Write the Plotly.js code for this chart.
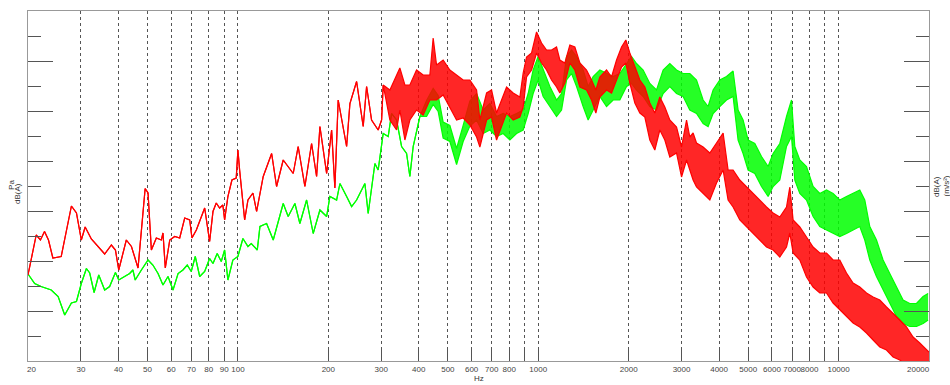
<!DOCTYPE html>
<html><head><meta charset="utf-8">
<script src="https://cdn.plot.ly/plotly-3.0.1.min.js"></script>
<style>html,body{margin:0;padding:0;background:#fff;} #chart{width:950px;height:385px;}</style>
</head><body><div id="chart"></div>
<script>
// ---- Red series: line part (Hz, dB), read peak by peak ----
const redLineFreq = [20,21.3,22.0,22.7,23.4,24.2,25.8,27.9,29.0,30.1,31.0,32.5,36.0,37.9,39.1,40.1,42.5,44.2,46.5,49.1,50.2,51.5,53.5,55.6,56.3,57.3,59.3,61.6,64.0,66.5,69.1,70.3,72.7,75.5,77.5,80.5,82.6,84.7,86.9,89.1,90.3,92.6,95.5,98.7,100,101.3,105.3,108,112.2,115.4,121.4,129.5,134.5,141.5,152.8,158.7,167.1,175.9,182.8,187.5,197.4,205.1,210.3,215.7,230.1,236.0,248.4,261.3,268.2,278.6,293.1,300.9,304.6];
const redLineDb = [17.2,25.2,24.2,25.9,24.2,20.6,20.9,31.0,29.6,24.2,26.8,24.4,21.4,23.2,22.2,18.2,24.2,22.9,18.6,34.5,33.6,22.2,24.6,24.2,25.6,18.6,24.2,24.9,24.6,28.6,28.2,24.6,26.2,28.9,30.6,23.9,29.9,31.6,30.6,31.2,28.2,32.9,36.2,36.6,42.2,38.2,28.2,32.2,33.6,29.9,36.9,41.5,34.9,40.2,37.5,42.9,34.9,43.5,36.9,46.9,37.5,46.2,34.6,52.2,42.9,51.5,55.9,46.9,54.9,48.2,46.2,48.2,55.2];
// ---- Red series: dense noisy part, envelope (upper / lower) ----
const redBandFreq = [320.6,337.5,346.1,359.7,373.7,393.4,413.8,435.6,446.8,458.5,482.3,507.8,534.6,562.3,592.0,623.2,639.2,672.9,699.1,726.4,754.8,784.3,825.0,868.5,890.7,914.2,950.0,987.1,1025.6,1065.7,1107.4,1150.6,1180.0,1226.1,1274.1,1323.9,1375.7,1448.0,1504.6,1555.0,1603.4,1688.0,1753.9,1822.4,1893.7,1957.2,2018.1,2097.0,2179.0,2264.0,2352.4,2444.1,2539.6,2638.8,2741.7,2886.6,2999.3,3117.1,3196.3,3278.0,3364.6,3539.3,3725.7,3922.1,4125.5,4286.6,4453.8,4688.3,4935.5,5191.9,5465.6,5754.2,6052.8,6372.2,6708.0,6879.6,7055.9,7428.0,7818.9,8224.7,8658.4,9114.5,9587.4,10092,10624,11176,11764,12385,13029,13715,14436,15185,15985,16828,17701,18635,19617,20000];
const redBandHi = [54.2,57.2,58.6,55.2,55.2,58.2,57.2,57.2,64.6,59.2,60.2,58.2,57.2,56.2,56.2,54.2,48.2,53.6,54.2,49.6,52.2,54.8,53.6,52.8,57.6,60.8,61.6,65.8,63.6,62.2,62.2,62.8,60.2,59.6,63.2,62.8,59.6,58.2,56.2,54.2,56.8,58.2,56.8,60.2,62.8,64.2,61.6,58.8,56.2,54.8,51.6,49.6,52.8,50.8,48.2,46.8,42.8,48.2,44.8,45.6,43.6,42.8,41.6,43.6,45.6,38.2,38.2,36.2,34.8,33.6,32.2,30.8,29.6,28.8,30.8,34.8,28.2,26.8,24.8,22.8,21.6,21.6,20.2,20.2,17.6,15.6,14.8,13.6,12.8,12.2,10.8,9.6,8.2,6.8,4.8,3.6,2.2,1.8];
const redBandLo = [48.2,46.2,50.2,44.2,48.2,50.2,49.2,52.2,52.2,52.2,53.2,50.6,48.2,48.6,47.2,44.8,42.8,48.2,48.8,44.2,46.8,49.6,48.2,48.8,50.8,56.8,58.2,61.6,59.6,58.2,56.2,54.8,53.6,55.6,59.6,58.2,54.8,54.2,52.2,49.6,52.8,54.2,53.6,56.2,58.8,59.6,55.6,51.6,49.6,48.8,44.2,42.2,46.2,44.2,40.8,41.6,36.8,40.2,38.2,36.2,34.8,33.6,32.2,35.6,38.2,32.2,30.8,28.2,26.8,25.6,24.2,22.8,22.2,20.8,22.8,25.6,21.6,20.2,16.8,14.8,13.6,13.6,11.6,10.2,8.8,7.6,6.8,5.6,4.2,2.8,2.2,0.8,0.2,-1,-1,-1,-1,-1];

// ---- Green series: line part ----
const greenLineFreq = [20,21.05,22.1,23.9,25.2,26.5,27.9,29.0,30.1,31.3,32.1,33.2,34.4,36.0,37.4,39.1,40.1,42.0,43.6,44.7,45.5,47.7,50.2,52.1,54.2,56.3,58.5,60.8,63.2,65.6,67.8,69.9,72.1,74.6,77.5,80.5,82.6,85.3,88.0,90.3,92.6,96.2,100,103.9,108,110.8,116,118.4,124.6,131.1,141.5,147.0,154.8,160.8,169.3,178.1,187.5,197.4,202.4,213.1,218.6,230.1,239.1,248.4,264.7,271.5,278.6,285.8,293.1,300.9,304.6,316.5,324.8,337.5,350.7,364.4,373.7,383.3,393.4,403.5];
const greenLineDb = [17.4,15.5,14.9,14.2,12.9,9.2,11.6,11.9,15.5,18.5,17.6,13.7,17.2,14.2,14.9,17.7,16.2,16.9,17.5,18.2,16.2,18.2,20.2,19.2,17.5,15.2,16.9,14.2,17.5,18.2,19.2,17.9,20.9,16.9,17.9,20.5,19.5,21.5,19.9,22.2,16.2,20.2,20.9,24.5,22.9,23.5,22.2,26.9,27.5,24.2,31.5,28.9,31.5,27.5,32.2,25.5,30.2,28.9,32.9,32.2,35.5,32.9,30.9,32.2,35.5,29.5,34.9,39.5,38.2,42.9,45.5,44.9,49.5,48.2,42.9,41.5,36.9,42.9,46.2,48.9];
// ---- Green series: dense noisy part, envelope ----
const greenBandFreq = [424.7,446.8,464.2,482.3,507.8,534.6,562.3,592.0,623.2,655.5,690.1,726.4,764.1,804.3,846.8,890.7,925.5,961.7,999,1038.3,1093.0,1150.6,1195.6,1242.3,1290.9,1341.3,1410.7,1465.9,1523.2,1603.4,1688.0,1775.6,1869.2,1967.7,2044.5,2124.5,2234.7,2352.4,2476.3,2604.6,2741.7,2886.6,3036.4,3196.3,3364.6,3539.3,3677.4,3821.3,4022.7,4234.3,4453.8,4627.7,4808.6,4996.4,5260.2,5537.7,5825.2,6052.8,6372.2,6708.0,6970,7148,7428,7818.9,8224.7,8658.4,9114.5,9587.4,10092,10624,11176,11764,12223,12702,13371,14064,14805,15586,16394,17260,18168,19112,19860];
const greenBandHi = [52.1,54.5,53.1,47.8,47.1,42.5,47.1,52.0,53.5,50.2,51.5,48.9,49.5,48.9,49.5,50.2,53.5,58.2,60.9,58.2,54.9,52.2,53.5,60.9,62.2,60.9,58.2,54.9,56.9,58.2,57.5,56.9,57.5,59.5,60.9,59.5,58.2,55.5,54.2,58.2,59.5,58.2,57.5,57.5,56.2,52.2,50.9,54.2,56.2,56.9,58.0,50.2,48.2,44.2,43.5,40.9,38.9,41.5,43.5,48.9,52.2,42.9,40.2,38.9,34.9,33.5,34.2,33.5,32.2,32.9,33.5,34.2,32.2,26.9,24.2,20.2,17.5,14.9,12.2,11.5,11.5,12.9,13.5];
const greenBandLo = [48.9,51.3,49.9,44.6,43.9,39.3,43.9,47.0,48.2,45.5,46.2,44.9,45.5,44.2,45.5,46.2,49.5,53.5,56.2,52.9,50.9,48.9,50.2,56.2,57.5,54.9,50.9,48.2,50.2,52.9,50.9,52.2,52.2,54.9,55.5,54.2,52.9,50.9,50.2,53.5,54.9,53.5,52.9,50.2,49.5,47.5,46.9,49.5,50.9,52.2,52.9,44.2,41.5,38.2,37.5,34.9,32.9,34.9,36.2,42.9,44.9,36.2,33.5,32.2,28.9,26.9,26.2,25.5,24.9,25.5,26.2,26.9,24.2,20.2,16.9,14.2,11.5,8.9,7.5,6.9,6.9,7.5,8.2];

// ---- Axis ticks ----
const tickFreqs = [20,30,40,50,60,70,80,90,100,200,300,400,500,600,700,800,900,1000,2000,3000,4000,5000,6000,7000,8000,9000,10000,20000];
const tickLabels = ["","30","40","50","60","70","80","90","100","200","300","400","500","600","700","800","","1000","2000","3000","4000","5000","6000","7000","8000","","10000",""];
const edgeLabels = ["20","20000"];
const decadeFreqs = [100,1000,10000];

const RED = '#ff0000', GREEN = '#00ff00';
function seriesTraces(lineF, lineY, bandF, hi, lo, color, fill) {
  const f = lineF.concat(bandF);
  return [
    {x: f, y: lineY.concat(lo), type:'scatter', mode:'lines', line:{color:color, width:1.2}, hoverinfo:'skip'},
    {x: f, y: lineY.concat(hi), type:'scatter', mode:'lines', line:{color:color, width:1.2}, fill:'tonexty', fillcolor: fill, hoverinfo:'skip'}
  ];
}
const traces = [].concat(
  seriesTraces(greenLineFreq, greenLineDb, greenBandFreq, greenBandHi, greenBandLo, GREEN, 'rgba(0,255,0,0.85)'),
  seriesTraces(redLineFreq, redLineDb, redBandFreq, redBandHi, redBandLo, RED, 'rgba(255,0,0,0.85)')
);

const FONT = 'Liberation Sans, Arial, sans-serif';
const xr = [Math.log10(20), Math.log10(20000)];
const lblFont = {family:FONT, size:8, color:'#444'};
const layout = {
  width: 950, height: 385,
  margin: {l:28, r:21, t:11, b:24, pad:0},
  paper_bgcolor:'#fff', plot_bgcolor:'#fff',
  showlegend:false, hovermode:false,
  xaxis: {
    type:'log', range: xr, tickvals: tickFreqs, ticktext: tickLabels, tickangle:0,
    ticks:'inside', ticklen:12, tickcolor:'#555', tickwidth:1,
    showgrid:true, gridcolor:'#555', griddash:'dot', gridwidth:1,
    showline:true, linecolor:'#999', linewidth:1, mirror:true, zeroline:false,
    tickfont: lblFont
  },
  xaxis2: {
    type:'log', range: xr, overlaying:'x', anchor:'y', side:'bottom',
    tickvals: decadeFreqs, ticks:'inside', ticklen:26, tickcolor:'#555',
    showticklabels:false, showgrid:false, showline:false, zeroline:false
  },
  yaxis: {
    range:[0,70], tick0:0, dtick:10, ticks:'inside', ticklen:25, tickcolor:'#555',
    minor:{dtick:5, tick0:0, ticks:'inside', ticklen:13, tickcolor:'#555'},
    showticklabels:false, showgrid:false, zeroline:false,
    showline:true, linecolor:'#999', linewidth:1, mirror:'ticks'
  },
  annotations: [
    {text:edgeLabels[0], xref:'paper', yref:'paper', x:-0.003, xanchor:'left', y:-0.0243, yanchor:'middle', showarrow:false, font:lblFont},
    {text:edgeLabels[1], xref:'paper', yref:'paper', x:1.003, xanchor:'right', y:-0.0243, yanchor:'middle', showarrow:false, font:lblFont},
    {text:'Hz', xref:'paper', yref:'paper', x:0.5, y:-0.05, yanchor:'middle', showarrow:false, font:{family:FONT, size:8, color:'#333'}},
    {text:'Pa', xref:'paper', yref:'paper', x:-0.025, y:0.503, textangle:-90, showarrow:false, font:{family:FONT, size:8, color:'#333'}},
    {text:'dB(A)', xref:'paper', yref:'paper', x:-0.0195, y:0.48, textangle:-90, showarrow:false, font:{family:FONT, size:8, color:'#333'}},
    {text:'dB(A)', xref:'paper', yref:'paper', x:1.015, y:0.497, textangle:-90, showarrow:false, font:{family:FONT, size:8, color:'#333'}},
    {text:'(m/s²)', xref:'paper', yref:'paper', x:1.0265, y:0.5, textangle:-90, showarrow:false, font:{family:FONT, size:8, color:'#333'}}
  ]
};
Plotly.newPlot('chart', traces, layout, {displayModeBar:false, staticPlot:true});
</script></body></html>
